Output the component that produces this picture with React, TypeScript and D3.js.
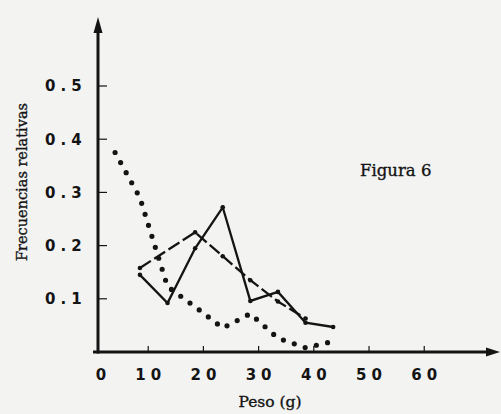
import React from "react";
import * as d3 from "d3";

// Peso (g) class midpoints and relative frequencies
const solidX = [8.5, 13.5, 18.5, 23.5, 28.5, 33.5, 38.5, 43.5];
const solidY = [0.145, 0.092, 0.195, 0.272, 0.096, 0.113, 0.055, 0.047];

const dashedX = [8.5, 18.5, 23.5, 28.5, 33.5, 38.5];
const dashedY = [0.158, 0.225, 0.18, 0.135, 0.095, 0.063];

const dottedX = [4, 8.5, 13.5, 18.5, 23.5, 28.5, 33.5, 38.5, 43.5];
const dottedY = [0.375, 0.29, 0.123, 0.085, 0.045, 0.072, 0.026, 0.008, 0.02];

const xTicks = [0, 10, 20, 30, 40, 50, 60];
const yTicks = [0.1, 0.2, 0.3, 0.4, 0.5];

const width = 501;
const height = 414;
const ink = "#141414";

export default function App() {
  const x = d3.scaleLinear().domain([0, 73]).range([93, 496]);
  const y = d3.scaleLinear().domain([0, 0.5]).range([352, 86]);

  const line = d3
    .line<[number, number]>()
    .x((d) => x(d[0]))
    .y((d) => y(d[1]));

  const solid = d3.zip(solidX, solidY) as [number, number][];
  const dashed = d3.zip(dashedX, dashedY) as [number, number][];
  const dotted = d3.zip(dottedX, dottedY) as [number, number][];

  const axisX = x(0) + 5; // printed y axis sits a little right of zero
  const axisY = y(0);

  const tickFont = {
    fontFamily: "DejaVu Sans",
    fontWeight: 700,
    fontSize: 15,
    fill: ink,
  };
  const serif = {
    fontFamily: "DejaVu Serif",
    fill: ink,
    stroke: ink,
    strokeWidth: 0.35,
  };

  return (
    <svg
      width={width}
      height={height}
      style={{ position: "absolute", left: 0, top: 0 }}
    >
      <rect width={width} height={height} fill="#f3f3f2" />

      {/* dotted series */}
      <path
        d={line(dotted) || ""}
        fill="none"
        stroke={ink}
        strokeWidth={5.2}
        strokeLinecap="round"
        strokeDasharray="0 11.5"
      />

      {/* dashed series */}
      <path
        d={line(dashed) || ""}
        fill="none"
        stroke={ink}
        strokeWidth={2.3}
        strokeDasharray="13 4"
      />
      {dashed.map((d, i) => (
        <circle key={"dc" + i} cx={x(d[0])} cy={y(d[1])} r={2.3} fill={ink} />
      ))}

      {/* solid series */}
      <path
        d={line(solid) || ""}
        fill="none"
        stroke={ink}
        strokeWidth={2.3}
      />
      {solid.map((d, i) => (
        <circle key={"sc" + i} cx={x(d[0])} cy={y(d[1])} r={2.3} fill={ink} />
      ))}

      {/* axes */}
      <line x1={axisX} x2={axisX} y1={axisY + 1.5} y2={30} stroke={ink} strokeWidth={3} />
      <path d={`M${axisX},17 L${axisX - 4.5},33 L${axisX + 4.5},33 Z`} fill={ink} />
      <line x1={axisX - 5} x2={488} y1={axisY} y2={axisY} stroke={ink} strokeWidth={3} />
      <path d={`M500,${axisY} L486,${axisY - 4.5} L486,${axisY + 4.5} Z`} fill={ink} />

      {yTicks.map((t) => (
        <g key={"yt" + t}>
          <line
            x1={axisX}
            x2={axisX + 9}
            y1={y(t)}
            y2={y(t)}
            stroke={ink}
            strokeWidth={1.2}
          />
          <text
            x={45}
            y={y(t)}
            dy="0.36em"
            letterSpacing={5}
            {...tickFont}
          >
            {d3.format(".1f")(t)}
          </text>
        </g>
      ))}

      {xTicks.map((t) => (
        <g key={"xt" + t}>
          {t > 0 && (
            <line
              x1={x(t)}
              x2={x(t)}
              y1={axisY}
              y2={axisY - 6}
              stroke={ink}
              strokeWidth={1.2}
            />
          )}
          <text
            x={t === 0 ? axisX + 3 : x(t)}
            y={380}
            dx={2.5}
            textAnchor="middle"
            letterSpacing={5}
            {...tickFont}
          >
            {t}
          </text>
        </g>
      ))}

      <text x={270} y={407} textAnchor="middle" fontSize={15.5} {...serif}>
        Peso (g)
      </text>
      <text
        transform="translate(27,182) rotate(-90)"
        textAnchor="middle"
        fontSize={14.5}
        {...serif}
      >
        Frecuencias relativas
      </text>
      <text x={360} y={176} fontSize={16.5} {...serif}>
        Figura 6
      </text>
    </svg>
  );
}
